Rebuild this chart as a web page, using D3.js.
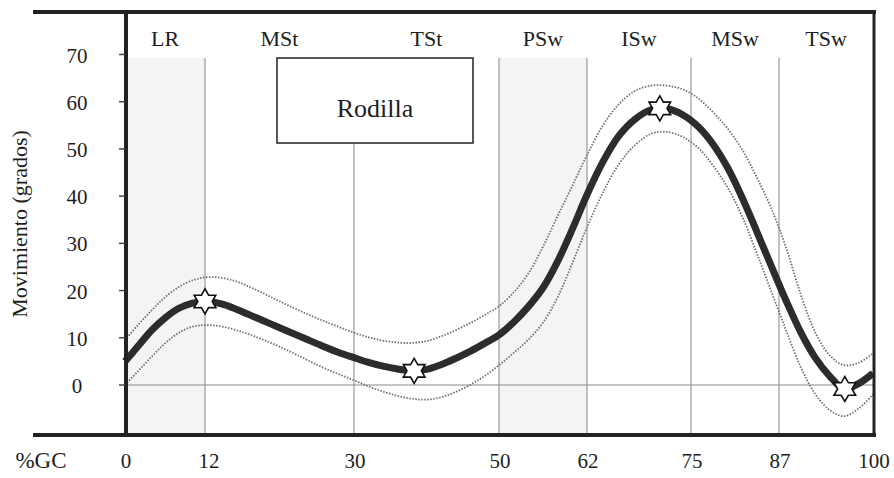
<!DOCTYPE html>
<html>
<head>
<meta charset="utf-8">
<script src="https://cdn.jsdelivr.net/npm/d3@7"></script>
<style>
  html, body { margin: 0; padding: 0; background: #fff; }
  svg { display: block; }
  text { font-family: "Liberation Serif", "Times New Roman", serif; fill: #1e1e1e; }
</style>
</head>
<body>
<svg id="chart" width="894" height="478"></svg>
<script>
// ---------- data ----------
const phaseBounds = [0, 12, 30, 50, 62, 75, 87, 100];
const phaseLabels = ["LR", "MSt", "TSt", "PSw", "ISw", "MSw", "TSw"];
const shadedPhases = ["LR", "PSw"];
const yTicks = [0, 10, 20, 30, 40, 50, 60, 70];
const xLabel = "%GC";
const yLabel = "Movimiento (grados)";
const titleLabel = "Rodilla";

const cycle = [0,2,4,6,8,10,12,14,16,18,20,22,24,26,28,30,32,34,36,38,40,42,44,46,48,50,
               52,54,56,58,60,62,64,66,68,70,72,74,76,78,80,82,84,86,88,90,92,94,96,98,100];
const meanAngle = [5,8.3,11.6,14.2,16.2,17.3,17.7,17.2,15.9,14.4,12.9,11.4,9.9,8.4,7.0,5.8,4.8,4.0,3.4,3.0,3.3,4.3,5.6,7.1,8.8,10.6,
                   13.3,16.6,20.6,26.2,33.0,40.3,47.3,52.8,56.3,58.3,58.5,57.2,54.7,51,46,39.6,32.4,25.0,17.8,11.2,5.8,1.9,-0.8,0.3,2.5];
const upperAngle = [9.5,12.8,15.8,18.6,20.7,22.1,22.8,22.7,21.8,20.3,18.6,16.9,15.3,13.8,12.4,11.1,10.1,9.4,9.0,8.9,9.3,10.3,11.6,13.1,14.8,16.7,
                    19.6,23.6,29.3,35.8,42.2,48.7,55,59.5,62.3,63.4,63.4,62.6,60.7,57.8,54.3,49.8,43.9,37.2,29.0,19.2,11.2,6.3,4.2,4.7,6.7];
const lowerAngle = [0,3,6,8.8,11,12.3,12.7,12.4,11.5,10.3,8.9,7.3,5.6,3.9,2.4,1.0,-0.3,-1.4,-2.3,-2.9,-3.1,-2.6,-1.5,0,1.9,4.2,
                    6.8,9.6,13.2,18.6,25.8,33.4,40.8,46.8,50.8,53.2,53.6,52.5,50.2,46.5,41.8,35.6,27.8,19.6,11.5,3.8,-1.9,-5.3,-6.6,-5,-2];
const starCycle = [12, 38.3, 71.1, 96.1];
const starAngle = [17.7, 3.0, 58.6, -0.85];

// ---------- layout ----------
const FONT = "Liberation Serif, Times New Roman, serif";
const svg = d3.select("#chart");
const x = d3.scaleLinear().domain(phaseBounds).range([125, 205, 354, 499, 587, 691, 779, 873]);
const y = d3.scaleLinear().domain([0, 70]).range([385, 54.5]);
const frameTop = 12, frameBottom = 435, frameLeftOuter = 33;
const gridTop = 58;

// shaded phases
const phases = phaseLabels.map((p, i) => ({ name: p, x0: phaseBounds[i], x1: phaseBounds[i + 1] }));
svg.append("g").selectAll("rect")
  .data(phases.filter(d => shadedPhases.includes(d.name)))
  .join("rect")
  .attr("x", d => x(d.x0)).attr("width", d => x(d.x1) - x(d.x0))
  .attr("y", gridTop).attr("height", frameBottom - gridTop)
  .attr("fill", "#f4f4f3");

// vertical grid lines at phase boundaries
svg.append("g").selectAll("line")
  .data(phaseBounds.slice(1, -1))
  .join("line")
  .attr("x1", d => x(d)).attr("x2", d => x(d))
  .attr("y1", gridTop).attr("y2", frameBottom)
  .attr("stroke", "#9a9a9a").attr("stroke-width", 1.2);

// zero line
svg.append("line")
  .attr("x1", x(0)).attr("x2", x(100)).attr("y1", y(0)).attr("y2", y(0))
  .attr("stroke", "#8a8a8a").attr("stroke-width", 1.2);

// title box
svg.append("rect")
  .attr("x", 277).attr("y", 58).attr("width", 196).attr("height", 85)
  .attr("fill", "#fff").attr("stroke", "#222").attr("stroke-width", 1.5);
svg.append("text").attr("x", 375).attr("y", 117).attr("text-anchor", "middle")
  .attr("font-family", FONT).attr("font-size", 26).text(titleLabel);

// curves
const line = d3.line().x(d => x(d[0])).y(d => y(d[1])).curve(d3.curveCatmullRom.alpha(0.5));
[upperAngle, lowerAngle].forEach(arr => {
  svg.append("path")
    .attr("d", line(cycle.map((c, i) => [c, arr[i]])))
    .attr("fill", "none").attr("stroke", "#707070")
    .attr("stroke-width", 1.8).attr("stroke-dasharray", "1.5,1.5");
});
svg.append("path")
  .attr("d", line(cycle.map((c, i) => [c, meanAngle[i]])))
  .attr("fill", "none").attr("stroke", "#2c2c2c")
  .attr("stroke-width", 7).attr("stroke-linecap", "butt");

// six-pointed stars
const starPts = d3.range(12).map(k => [k * Math.PI / 6, k % 2 === 0 ? 12.5 : 7.2]);
const starPath = d3.lineRadial().curve(d3.curveLinearClosed)(starPts);
svg.append("g").selectAll("path")
  .data(starCycle.map((c, i) => [c, starAngle[i]]))
  .join("path")
  .attr("transform", d => `translate(${x(d[0])},${y(d[1])})`)
  .attr("d", starPath)
  .attr("fill", "#fff").attr("stroke", "#111").attr("stroke-width", 1.6)
  .attr("stroke-linejoin", "miter");

// frame
const frame = svg.append("g").attr("stroke", "#222");
frame.append("line").attr("x1", frameLeftOuter).attr("x2", x(100) + 3)
  .attr("y1", frameTop).attr("y2", frameTop).attr("stroke-width", 4);
frame.append("line").attr("x1", frameLeftOuter).attr("x2", x(100) + 3)
  .attr("y1", frameBottom).attr("y2", frameBottom).attr("stroke-width", 4);
frame.append("line").attr("x1", x(0) + 1).attr("x2", x(0) + 1)
  .attr("y1", frameTop).attr("y2", frameBottom + 2).attr("stroke-width", 4);
frame.append("line").attr("x1", x(100) + 1).attr("x2", x(100) + 1)
  .attr("y1", frameTop).attr("y2", frameBottom + 2).attr("stroke-width", 3);

// y ticks
svg.append("g").selectAll("line")
  .data(yTicks).join("line")
  .attr("x1", 119).attr("x2", 125).attr("y1", d => y(d)).attr("y2", d => y(d))
  .attr("stroke", "#444").attr("stroke-width", 1.5);
svg.append("g").selectAll("text")
  .data(yTicks).join("text")
  .attr("x", 77).attr("y", d => y(d) + 8).attr("text-anchor", "middle")
  .attr("font-family", FONT).attr("font-size", 21).text(d => d);

// x tick labels
svg.append("g").selectAll("text")
  .data(phaseBounds).join("text")
  .attr("x", d => x(d) + (d === 12 ? 4 : 1)).attr("y", 468).attr("text-anchor", "middle")
  .attr("font-family", FONT).attr("font-size", 21).text(d => d);
svg.append("text").attr("x", 41).attr("y", 468).attr("text-anchor", "middle")
  .attr("font-family", FONT).attr("font-size", 23).text(xLabel);

// phase labels
svg.append("g").selectAll("text")
  .data(phases).join("text")
  .attr("x", d => x((d.x0 + d.x1) / 2)).attr("y", 46).attr("text-anchor", "middle")
  .attr("font-family", FONT).attr("font-size", 22).text(d => d.name);

// y label
svg.append("text").attr("transform", "translate(27,224) rotate(-90)")
  .attr("text-anchor", "middle").attr("font-family", FONT).attr("font-size", 22).text(yLabel);
</script>
</body>
</html>
